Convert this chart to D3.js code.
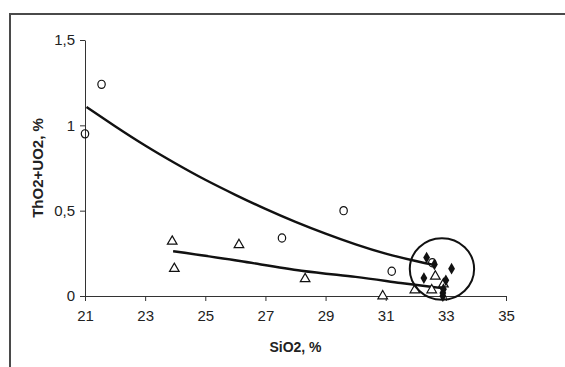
<!DOCTYPE html>
<html>
<head>
<meta charset="utf-8">
<script src="https://cdn.jsdelivr.net/npm/d3@7"></script>
<style>
  body { margin: 0; background: #fff; }
  text { font-family: "Liberation Sans", Arial, sans-serif; }
</style>
</head>
<body>
<div id="chart"></div>
<script>
//***************** data *******************/
// open circles
var circles = [
  {x: 21.0, y: 0.95}, {x: 21.55, y: 1.24}, {x: 27.55, y: 0.34},
  {x: 29.6, y: 0.50}, {x: 31.2, y: 0.145}, {x: 32.55, y: 0.195}
];
// open triangles
var triangles = [
  {x: 23.9, y: 0.32}, {x: 23.97, y: 0.16}, {x: 26.12, y: 0.30},
  {x: 28.32, y: 0.10}, {x: 30.9, y: 0.0}, {x: 31.97, y: 0.035},
  {x: 32.53, y: 0.035}, {x: 32.65, y: 0.115}, {x: 32.92, y: 0.07}
];
// filled diamonds
var diamonds = [
  {x: 32.36, y: 0.225}, {x: 32.62, y: 0.185}, {x: 33.19, y: 0.16},
  {x: 32.27, y: 0.105}, {x: 33.0, y: 0.092}, {x: 32.92, y: 0.04},
  {x: 32.9, y: 0.018}, {x: 32.9, y: 0.0}
];
// trend lines
var trendUpper = [
  {x: 21.05, y: 1.107}, {x: 22, y: 0.995}, {x: 23, y: 0.882}, {x: 24, y: 0.778},
  {x: 25, y: 0.681}, {x: 26, y: 0.593}, {x: 27, y: 0.510}, {x: 28, y: 0.434},
  {x: 29, y: 0.365}, {x: 30, y: 0.302}, {x: 31, y: 0.248}, {x: 32, y: 0.205},
  {x: 32.6, y: 0.182}
];
var trendLower = [
  {x: 23.93, y: 0.262}, {x: 26.15, y: 0.205}, {x: 28.2, y: 0.148},
  {x: 30, y: 0.112}, {x: 31.5, y: 0.076}, {x: 32.95, y: 0.045}
];
// ellipse around the cluster (centre and radii in data units)
var cluster = {cx: 32.87, cy: 0.158, rx: 1.07, ry: 0.18};

// ticks
var xTicks = [21, 23, 25, 27, 29, 31, 33, 35];
var yTicks = [0, 0.5, 1, 1.5];
var yTickLabels = ["0", "0,5", "1", "1,5"];

//************* set dimensions ***************/
var W = 565, H = 367;
var margin = {left: 85, top: 40};
var width = 421, height = 256;

//************** setup svg  *****************/
var root = d3.select("#chart")
  .append("svg")
    .attr("width", W)
    .attr("height", H);

// frame (left + top, rest is cut off)
root.append("path")
  .attr("d", "M10," + H + " L10,14 L" + W + ",14")
  .attr("fill", "none")
  .attr("stroke", "#4a4a4a")
  .attr("stroke-width", 2);

var svg = root.append("g")
  .attr("transform", "translate(" + margin.left + "," + margin.top + ")");

//***************** scales *******************/
var x = d3.scaleLinear().domain([21, 35]).range([0, width]);
var y = d3.scaleLinear().domain([0, 1.5]).range([height, 0]);

//***************** axes *******************/
var xAxis = svg.append("g")
  .attr("transform", "translate(0," + height + ")")
  .call(d3.axisBottom(x).tickValues(xTicks).tickSize(5).tickSizeOuter(0).tickPadding(9));

var yAxis = svg.append("g")
  .call(d3.axisLeft(y).tickValues(yTicks).tickSize(5).tickSizeOuter(0).tickPadding(5)
    .tickFormat(function(d, i) { return yTickLabels[i]; }));

[xAxis, yAxis].forEach(function(g) {
  g.select(".domain").attr("stroke", "#333");
  g.selectAll(".tick line").attr("stroke", "#333");
  g.selectAll(".tick text")
    .attr("font-size", "15px")
    .attr("font-family", "Liberation Sans, Arial, sans-serif")
    .attr("fill", "#222");
});

//***************** labels *******************/
svg.append("text")
  .attr("x", width / 2)
  .attr("y", height + 56)
  .attr("text-anchor", "middle")
  .attr("font-size", "14px")
  .attr("font-weight", "bold")
  .attr("fill", "#222")
  .text("SiO2, %");

svg.append("text")
  .attr("transform", "rotate(-90)")
  .attr("x", -height / 2)
  .attr("y", -42)
  .attr("text-anchor", "middle")
  .attr("font-size", "15px")
  .attr("font-weight", "bold")
  .attr("fill", "#222")
  .text("ThO2+UO2, %");

//***************** trend lines *******************/
var line = d3.line()
  .x(function(d) { return x(d.x); })
  .y(function(d) { return y(d.y); })
  .curve(d3.curveNatural);

[trendUpper, trendLower].forEach(function(t) {
  svg.append("path")
    .datum(t)
    .attr("d", line)
    .attr("fill", "none")
    .attr("stroke", "#111")
    .attr("stroke-width", 2.4);
});

//***************** markers *******************/
svg.selectAll(".circ")
  .data(circles)
  .enter().append("ellipse")
    .attr("class", "circ")
    .attr("cx", function(d) { return x(d.x); })
    .attr("cy", function(d) { return y(d.y); })
    .attr("rx", 3.7)
    .attr("ry", 4.1)
    .attr("fill", "none")
    .attr("stroke", "#111")
    .attr("stroke-width", 1.2);

var tri = d3.symbol().type(d3.symbolTriangle).size(40);
svg.selectAll(".tri")
  .data(triangles)
  .enter().append("path")
    .attr("class", "tri")
    .attr("d", tri)
    .attr("transform", function(d) { return "translate(" + x(d.x) + "," + y(d.y) + ")"; })
    .attr("fill", "#fff")
    .attr("stroke", "#111")
    .attr("stroke-width", 1.2);

var dia = d3.symbol().type(d3.symbolDiamond).size(40);
svg.selectAll(".dia")
  .data(diamonds)
  .enter().append("path")
    .attr("class", "dia")
    .attr("d", dia)
    .attr("transform", function(d) { return "translate(" + x(d.x) + "," + y(d.y) + ")"; })
    .attr("fill", "#111");

//***************** cluster ellipse *******************/
svg.append("ellipse")
  .attr("cx", x(cluster.cx))
  .attr("cy", y(cluster.cy))
  .attr("rx", x(cluster.cx + cluster.rx) - x(cluster.cx))
  .attr("ry", y(0) - y(cluster.ry))
  .attr("fill", "none")
  .attr("stroke", "#111")
  .attr("stroke-width", 2);
</script>
</body>
</html>
